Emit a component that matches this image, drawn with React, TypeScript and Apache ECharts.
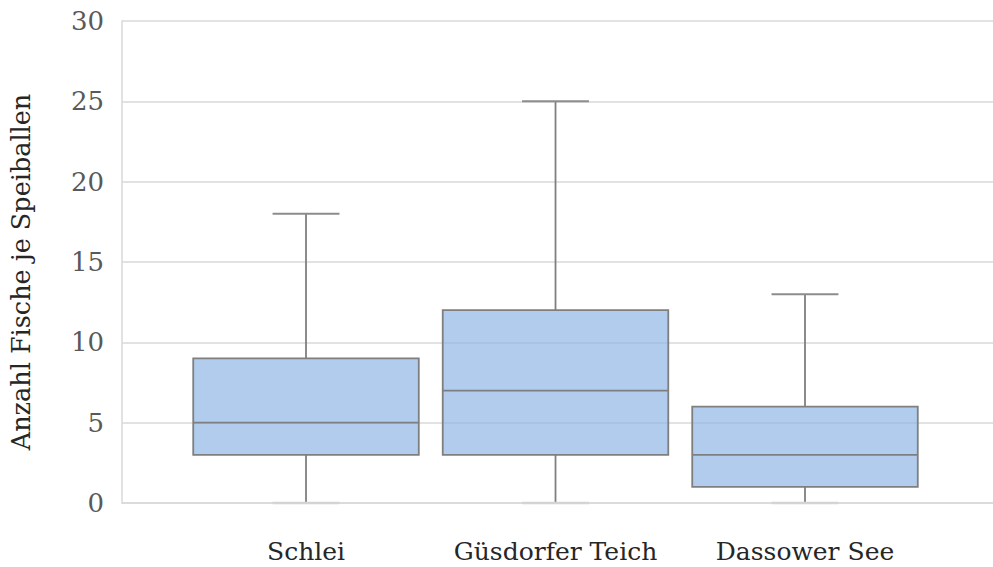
import React, { useEffect, useRef } from "react";
import * as echarts from "echarts";

const categories = ["Schlei", "Güsdorfer Teich", "Dassower See"];
const mins = [0, 0, 0];
const q1s = [3, 3, 1];
const medians = [5, 7, 3];
const q3s = [9, 12, 6];
const maxs = [18, 25, 13];
const yTicks = { min: 0, max: 30, interval: 5 };
const yTitle = "Anzahl Fische je Speiballen";

const FONT = "DejaVu Serif";

export default function App() {
  const ref = useRef<HTMLDivElement>(null);
  useEffect(() => {
    if (!ref.current) return;
    const chart = echarts.init(ref.current, null, { renderer: "svg" });
    const data = categories.map((_, i) => [i + 1, mins[i], q1s[i], medians[i], q3s[i], maxs[i]]);
    chart.setOption({
      animation: false,
      backgroundColor: "#ffffff",
      grid: { left: 122, right: 0, top: 21, bottom: 64 },
      xAxis: {
        type: "value",
        min: 0.2625,
        max: 3.7535,
        splitLine: { show: false },
        axisLine: { show: true, lineStyle: { color: "#d9d9d9", width: 1.5 } },
        axisTick: { show: false },
        axisLabel: {
          customValues: [1, 2, 3],
          formatter: (v: number) => categories[Math.round(v) - 1] ?? "",
          margin: 36,
          color: "#262626",
          fontFamily: FONT,
          fontSize: 25,
        },
      },
      yAxis: {
        type: "value",
        min: yTicks.min,
        max: yTicks.max,
        interval: yTicks.interval,
        name: yTitle,
        nameLocation: "middle",
        nameRotate: 90,
        nameGap: 88,
        nameTextStyle: { color: "#262626", fontFamily: FONT, fontSize: 25.5, padding: [0, 20, 0, 0] },
        axisLine: { show: true, lineStyle: { color: "#d9d9d9", width: 1.5 } },
        axisTick: { show: false },
        splitLine: { show: true, lineStyle: { color: "#d9d9d9", width: 1.5 } },
        axisLabel: { color: "#595959", fontFamily: FONT, fontSize: 26, margin: 18 },
      },
      series: [
        {
          type: "custom",
          data,
          encode: { x: 0, y: [1, 2, 3, 4, 5] },
          renderItem: (params: any, api: any) => {
            const x = api.value(0);
            const vmin = api.value(1);
            const vq1 = api.value(2);
            const vmed = api.value(3);
            const vq3 = api.value(4);
            const vmax = api.value(5);
            const unit = api.size([1, 0])[0];
            const cx = api.coord([x, 0])[0];
            const y = (v: number) => api.coord([x, v])[1];
            const half = unit * 0.452;
            const capHalf = unit * 0.134;
            const stroke = "#7f7f7f";
            return {
              type: "group",
              children: [
                { type: "line", shape: { x1: cx, y1: y(vq3), x2: cx, y2: y(vmax) }, style: { stroke, lineWidth: 1.8 } },
                { type: "line", shape: { x1: cx, y1: y(vmin), x2: cx, y2: y(vq1) }, style: { stroke, lineWidth: 1.8 } },
                {
                  type: "rect",
                  shape: { x: cx - half, y: y(vq3), width: half * 2, height: y(vq1) - y(vq3) },
                  style: { fill: "rgba(140,180,228,0.68)", stroke, lineWidth: 1.8 },
                },
                { type: "line", shape: { x1: cx - half, y1: y(vmed), x2: cx + half, y2: y(vmed) }, style: { stroke, lineWidth: 1.8 } },
                { type: "line", shape: { x1: cx - capHalf, y1: y(vmax), x2: cx + capHalf, y2: y(vmax) }, style: { stroke: "#8c8c8c", lineWidth: 2 } },
                { type: "line", shape: { x1: cx - capHalf, y1: y(vmin), x2: cx + capHalf, y2: y(vmin) }, style: { stroke: "#d4d4d4", lineWidth: 2.5 } },
              ],
            };
          },
        },
      ],
    });
    return () => chart.dispose();
  }, []);
  return <div ref={ref} style={{ width: 993, height: 567, position: "absolute", left: 0, top: 0 }} />;
}
